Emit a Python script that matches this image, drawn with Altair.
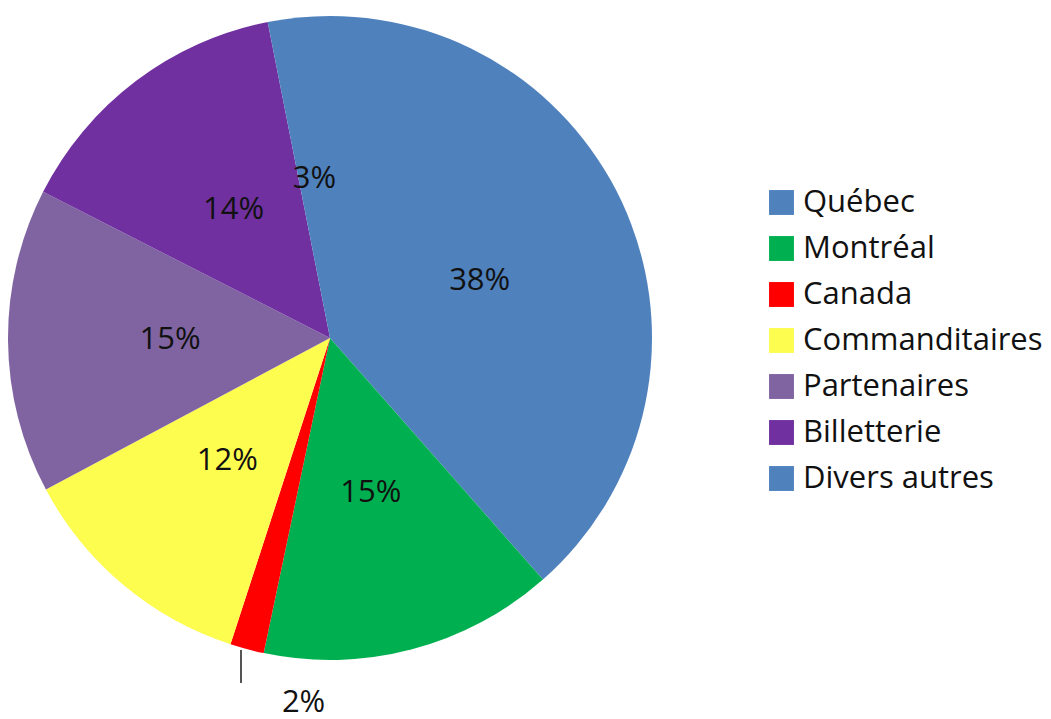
import altair as alt
import pandas as pd
import math

categories = ["Québec", "Montréal", "Canada", "Commanditaires", "Partenaires", "Billetterie", "Divers autres"]
values = [38.5, 14.8, 1.7, 12.2, 15.3, 14.4, 3.1]
labels = ["38%", "15%", "2%", "12%", "15%", "14%", "3%"]
colors = ["#4f81bd", "#00b050", "#ff0000", "#fdfd50", "#8064a2", "#7030a0", "#4f81bd"]

df = pd.DataFrame({
    "cat": categories,
    "val": values,
    "lab": labels,
    "idx": list(range(len(categories))),
})

FONT = "Open Sans"
TOTAL = sum(values)

pie = alt.Chart(df).mark_arc(radius=322).encode(
    theta=alt.Theta("val:Q", stack=True),
    order=alt.Order("idx:Q"),
    color=alt.Color(
        "cat:N",
        sort=categories,
        scale=alt.Scale(domain=categories, range=colors),
        legend=alt.Legend(
            title=None,
            orient="none",
            legendX=757,
            legendY=179,
            symbolType="square",
            symbolSize=620,
            symbolStrokeWidth=0,
            labelFont=FONT,
            labelFontSize=31,
            labelColor="#111111",
            labelLimit=400,
            rowPadding=14,
            labelOffset=6,
        ),
    ),
)

lab_base = alt.Chart(df).transform_window(
    cum="sum(val)", sort=[alt.SortField("idx")]
).transform_calculate(
    mid="datum.cum - datum.val / 2"
)

theta_mid = alt.Theta("mid:Q", stack=None,
                      scale=alt.Scale(domain=[0, TOTAL], range=[0, 2 * math.pi]))

inner = lab_base.transform_filter(alt.datum.cat != "Canada").mark_text(
    radius=160, font=FONT, fontSize=31, color="#111111"
).encode(theta=theta_mid, text="lab:N")

outer = lab_base.transform_filter(alt.datum.cat == "Canada").mark_text(
    radius=378, dx=71, font=FONT, fontSize=31, color="#111111"
).encode(theta=theta_mid, text="lab:N")

leader = alt.Chart(pd.DataFrame({"k": [0]})).mark_rule(color="#555555", strokeWidth=2).encode(
    x=alt.value(232), y=alt.value(642), y2=alt.value(675)
)

chart = alt.layer(pie, inner, outer, leader).resolve_scale(
    theta="independent"
).properties(
    width=642, height=660, padding=0
).configure_view(stroke=None)

chart.save("out.html", embed_options={"renderer": "svg", "actions": False})
